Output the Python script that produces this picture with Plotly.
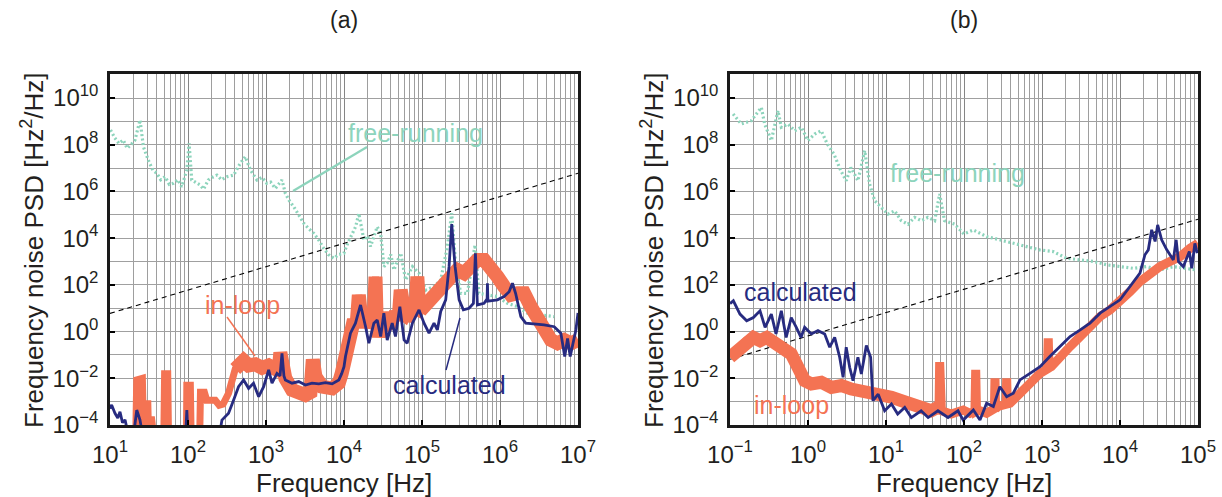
import numpy as np
import plotly.graph_objects as go

W, H = 1222, 497

# ---------------- data (log10 of frequency [Hz], log10 of PSD [Hz^2/Hz]) ----------------
# Panel (a)
a_free_f_log10 = [1.007,1.06,1.114,1.17,1.22,1.27,1.32,1.385,1.428,1.49,1.55,1.6,1.65,1.707,1.76,1.814,1.87,1.92,1.985,2.014,2.048,2.1,2.155,2.2,2.26,2.31,2.37,2.43,2.5,2.585,2.67,2.735,2.8,2.884,2.95,3.01,3.06,3.12,3.205,3.248,3.3,3.355,3.42,3.484,3.55,3.612,3.68,3.74,3.8,3.87,3.93,3.998,4.05,4.105,4.15,4.19,4.255,4.3,4.34,4.426,4.47,4.512,4.554,4.6,4.64,4.727,4.79,4.877,4.962,5.05,5.154,5.24,5.325,5.381,5.43,5.496,5.582,5.68,5.73,5.839,5.967,6.096,6.224,6.352,6.523,6.695]
a_free_psd_log10 = [8.63,8.3,8.06,8.2,7.85,8.0,8.2,9.06,7.92,7.35,6.9,6.78,6.5,6.63,6.3,6.35,6.5,6.2,6.92,8.06,6.49,6.4,6.28,6.1,6.49,6.6,6.7,6.5,6.63,6.7,7.2,7.49,6.92,6.49,6.6,6.35,6.4,6.13,6.49,5.92,5.6,5.35,5.0,4.64,4.4,4.21,3.9,3.56,3.3,3.14,3.3,3.35,3.8,4.21,4.5,5.06,3.92,4.1,3.64,4.49,4.21,2.78,2.93,3.3,2.64,3.36,2.21,2.78,2.5,1.78,1.93,2.21,3.64,5.07,2.93,1.64,1.64,3.71,1.64,1.57,1.5,1.21,1.07,0.79,0.71,0.64]

a_inloop_f_log10 = [1.0,1.33,1.343,1.415,1.43,1.475,1.484,1.495,1.53,1.56,1.69,1.70,1.74,1.75,1.98,1.985,2.03,2.04,2.15,2.16,2.21,2.24,2.35,2.40,2.45,2.52,2.606,2.648,2.713,2.777,2.863,2.95,3.034,3.12,3.17,3.184,3.2,3.248,3.334,3.42,3.505,3.57,3.6,3.634,3.72,3.848,3.934,3.97,4.0,4.04,4.08,4.127,4.16,4.19,4.22,4.255,4.3,4.34,4.38,4.404,4.42,4.447,4.51,4.56,4.6,4.663,4.7,4.727,4.75,4.791,4.877,4.92,4.94,4.96,5.026,5.11,5.197,5.28,5.368,5.453,5.539,5.625,5.71,5.796,5.882,5.967,6.053,6.139,6.224,6.31,6.395,6.48,6.566,6.652,6.737,6.823,6.909,7.0]
a_inloop_psd_log10 = [-4.5,-4.5,-2.07,-2.0,-4.5,-4.5,-2.94,-4.5,-3.64,-4.5,-4.5,-1.81,-1.81,-4.5,-4.5,-2.3,-2.3,-4.5,-4.5,-2.6,-2.6,-2.94,-2.94,-3.15,-3.1,-2.64,-1.6,-1.5,-1.25,-1.45,-1.4,-1.55,-1.45,-1.6,-1.4,-0.9,-1.6,-2.0,-2.5,-2.64,-2.72,-2.6,-1.2,-1.93,-2.36,-2.43,-2.2,-1.8,-1.2,-1.0,-0.3,0.5,0.2,1.57,0.6,0.22,0.6,0.79,0.4,2.35,0.3,-0.21,0.79,0.3,0.36,0.79,0.5,1.78,0.6,0.5,1.07,1.0,2.35,1.2,1.07,1.36,1.64,1.93,2.35,2.64,2.5,2.78,3.07,3.07,2.78,2.35,1.93,1.57,1.64,1.64,1.07,0.5,0.07,-0.36,-0.5,-0.36,-0.5,-0.36]

a_calc_f_log10 = [1.0,1.021,1.064,1.1,1.128,1.16,1.193,1.24,1.30,1.343,1.385,1.42,1.97,1.985,2.0,2.40,2.435,2.52,2.585,2.648,2.713,2.777,2.84,2.906,2.97,3.034,3.077,3.141,3.18,3.205,3.23,3.248,3.334,3.42,3.505,3.59,3.677,3.762,3.848,3.934,3.97,4.0,4.019,4.083,4.147,4.212,4.276,4.319,4.383,4.426,4.47,4.511,4.554,4.618,4.66,4.716,4.77,4.81,4.877,4.962,5.026,5.09,5.154,5.197,5.24,5.304,5.347,5.381,5.424,5.476,5.53,5.603,5.659,5.675,5.685,5.695,5.71,5.796,5.835,5.839,5.845,5.967,6.053,6.117,6.16,6.2,6.267,6.33,6.44,6.566,6.695,6.78,6.83,6.866,6.9,6.95,6.973,7.0]
a_calc_psd_log10 = [-3.3,-3.14,-3.5,-3.7,-3.43,-3.9,-3.78,-4.5,-4.5,-3.36,-3.79,-4.5,-4.5,-3.36,-4.5,-4.5,-3.79,-3.5,-2.93,-2.36,-2.07,-2.43,-2.21,-2.79,-2.36,-1.64,-2.21,-1.79,-1.9,-0.93,-1.9,-2.07,-2.21,-2.14,-2.29,-2.21,-2.24,-2.19,-2.24,-2.07,-1.8,-1.5,-1.07,-0.07,0.36,1.14,0.22,-0.5,0.36,0.5,-0.21,0.79,-0.36,0.36,-0.21,1.07,-0.36,-0.5,0.36,0.93,0.36,-0.07,0.36,0.07,0.86,1.36,2.79,4.6,2.79,1.36,0.93,1.0,1.21,2.5,3.35,2.5,1.14,1.21,1.4,2.07,1.3,1.36,1.5,1.71,2.07,1.64,0.64,0.36,0.33,0.29,0.21,-0.07,-1.07,-0.29,-1.07,-0.36,0.07,0.8]

a_beta_f = [1e1, 1e7]
a_beta_psd = [6.0, 6.0e6]

# Panel (b)
b_free_f_log10 = [-0.96,-0.855,-0.727,-0.598,-0.556,-0.47,-0.385,-0.342,-0.256,-0.17,-0.085,0.0,0.085,0.17,0.248,0.333,0.42,0.49,0.55,0.64,0.727,0.79,0.855,0.94,1.025,1.11,1.196,1.282,1.367,1.453,1.538,1.624,1.688,1.75,1.88,2.0,2.12,2.29,2.46,2.63,2.8,2.97,3.14,3.316,3.49,3.66,3.83,4.0,4.17,4.34,4.51,4.684,4.855,4.98]
b_free_psd_log10 = [9.32,8.89,9.03,9.6,8.89,8.18,9.46,8.75,8.89,8.6,8.75,8.18,8.46,8.6,8.03,7.6,6.89,6.46,7.03,6.46,7.75,6.32,5.6,5.32,5.03,5.17,4.75,4.6,4.89,4.75,4.89,4.75,5.89,4.75,4.6,4.18,4.35,4.07,3.92,3.78,3.64,3.5,3.43,3.14,3.07,3.0,2.86,2.78,2.71,2.78,2.64,2.78,2.71,2.64]

b_inloop_f_log10 = [-1.0,-0.957,-0.872,-0.786,-0.7,-0.615,-0.53,-0.47,-0.385,-0.3,-0.214,-0.128,-0.043,0.043,0.17,0.3,0.43,0.556,0.684,0.81,0.94,1.07,1.196,1.325,1.453,1.58,1.666,1.68,1.688,1.70,1.71,1.837,1.965,1.99,2.077,2.14,2.15,2.16,2.18,2.29,2.39,2.397,2.405,2.44,2.54,2.547,2.555,2.59,2.718,2.846,2.975,3.07,3.08,3.09,3.12,3.23,3.36,3.49,3.615,3.744,3.872,4.0,4.128,4.256,4.385,4.51,4.64,4.77,4.9,5.0]
b_inloop_psd_log10 = [-1.1,-0.96,-0.67,-0.39,-0.25,-0.39,-0.25,-0.39,-0.53,-0.67,-0.96,-1.53,-2.1,-2.24,-2.17,-2.39,-2.31,-2.46,-2.53,-2.67,-2.74,-2.81,-2.96,-3.1,-3.24,-3.39,-3.24,-3.3,-1.31,-3.3,-3.39,-3.53,-3.39,-3.36,-3.5,-3.4,-1.64,-3.4,-3.36,-3.5,-3.3,-2.0,-3.3,-3.21,-3.1,-2.0,-3.1,-3.07,-2.64,-2.21,-1.79,-1.6,-0.29,-1.55,-1.5,-1.07,-0.64,-0.21,0.21,0.64,0.93,1.29,1.71,2.14,2.5,2.78,3.0,3.21,3.57,3.78]

b_calc_f_log10 = [-1.0,-0.957,-0.872,-0.786,-0.7,-0.615,-0.55,-0.47,-0.41,-0.342,-0.28,-0.215,-0.15,-0.09,-0.043,0.043,0.128,0.214,0.278,0.342,0.406,0.45,0.49,0.534,0.577,0.64,0.684,0.748,0.803,0.833,0.9,0.983,1.07,1.15,1.24,1.325,1.45,1.54,1.666,1.795,1.923,1.99,2.12,2.205,2.29,2.376,2.46,2.547,2.632,2.718,2.846,2.975,3.1,3.23,3.36,3.49,3.615,3.744,3.872,4.0,4.128,4.256,4.32,4.363,4.406,4.45,4.483,4.534,4.6,4.684,4.72,4.75,4.812,4.889,4.92,4.96,4.99]
b_calc_psd_log10 = [1.2,1.32,0.75,0.46,0.6,0.89,0.18,0.75,-0.1,0.89,-0.25,0.6,0.18,-0.25,0.18,-0.1,0.04,-0.1,-0.67,-0.25,-1.1,-1.96,-0.67,-1.53,-2.1,-1.1,-1.82,-0.6,-1.1,-2.96,-2.68,-3.39,-3.1,-3.53,-3.25,-3.68,-3.39,-3.68,-3.39,-3.68,-3.39,-3.79,-3.36,-3.79,-3.07,-3.21,-2.36,-2.79,-2.64,-2.07,-1.79,-1.5,-1.07,-0.64,-0.21,0.07,0.36,0.79,1.07,1.36,1.93,2.5,3.29,3.5,4.36,3.86,4.57,3.93,3.5,3.07,3.93,3.0,2.78,3.43,2.71,3.78,3.36]

b_beta_f = [1e-1, 1e5]
b_beta_psd = [0.065, 6.5e4]

panel_titles = ["(a)", "(b)"]
a_xtick_exp = [1, 2, 3, 4, 5, 6, 7]
b_xtick_exp = [-1, 0, 1, 2, 3, 4, 5]
ytick_exp = [-4, -2, 0, 2, 4, 6, 8, 10]

# ---------------- styling ----------------
FONT = "Liberation Sans, Arial, Helvetica, sans-serif"
C_FREE = "#8dd4bc"
C_IN = "#f47353"
C_CALC = "#272b80"

def p(v):
    return 10 ** np.array(v, dtype=float)

fig = go.Figure()

def add_panel(xa, ya, free_f, free_p, in_f, in_p, calc_f, calc_p, beta_f, beta_p,
              in_width, thick_range, thick_width):
    fig.add_trace(go.Scatter(x=p(free_f), y=p(free_p), mode="lines", xaxis=xa, yaxis=ya,
                             line=dict(color=C_FREE, width=3.2, dash="2px,2.5px"), showlegend=False))
    fig.add_trace(go.Scatter(x=beta_f, y=beta_p, mode="lines", xaxis=xa, yaxis=ya,
                             line=dict(color="black", width=1.1, dash="5px,4px"), showlegend=False))
    fig.add_trace(go.Scatter(x=p(in_f), y=p(in_p), mode="lines", xaxis=xa, yaxis=ya,
                             line=dict(color=C_IN, width=in_width), showlegend=False))
    # noisy part of the in-loop trace appears as a wider band
    lo, hi = thick_range
    sel = [i for i, f in enumerate(in_f) if lo <= f <= hi]
    if sel:
        fig.add_trace(go.Scatter(x=p([in_f[i] for i in sel]), y=p([in_p[i] for i in sel]),
                                 mode="lines", xaxis=xa, yaxis=ya,
                                 line=dict(color=C_IN, width=thick_width), showlegend=False))
    fig.add_trace(go.Scatter(x=p(calc_f), y=p(calc_p), mode="lines", xaxis=xa, yaxis=ya,
                             line=dict(color=C_CALC, width=2.8), showlegend=False))

add_panel("x", "y", a_free_f_log10, a_free_psd_log10, a_inloop_f_log10, a_inloop_psd_log10,
          a_calc_f_log10, a_calc_psd_log10, a_beta_f, a_beta_psd, 7, (2.55, 7.0), 14)
add_panel("x2", "y2", b_free_f_log10, b_free_psd_log10, b_inloop_f_log10, b_inloop_psd_log10,
          b_calc_f_log10, b_calc_psd_log10, b_beta_f, b_beta_psd, 9, (-1.0, 1.67), 13)

def xaxis_cfg(exps, dom):
    minor = [m * 10.0 ** e for e in exps[:-1] for m in range(2, 10)]
    return dict(type="log", domain=dom, range=[exps[0], exps[-1]],
                tickvals=[10.0 ** e for e in exps],
                ticktext=[f"10<sup>{e}</sup>".replace("-", "\u2212") for e in exps],
                ticks="inside", ticklen=5, tickwidth=2, tickcolor="black",
                showline=True, linecolor="#1a1a1a", linewidth=2.5, mirror=True,
                showgrid=True, gridcolor="#858585", gridwidth=1.2,
                minor=dict(tickvals=minor, showgrid=True, gridcolor="#9e9e9e", gridwidth=1, ticks=""),
                tickfont=dict(family=FONT, size=24, color="#231f20"),
                ticklabelstandoff=6, zeroline=False, automargin=False)

def yaxis_cfg(anchor):
    odd = [10.0 ** e for e in range(-3, 11, 2)]
    return dict(type="log", domain=[1 - 425 / H, 1 - 74 / H], range=[-4, 11.03], anchor=anchor,
                tickvals=[10.0 ** e for e in ytick_exp],
                ticktext=[f"10<sup>{e}</sup>".replace("-", "\u2212") for e in ytick_exp],
                ticks="inside", ticklen=5, tickwidth=2, tickcolor="black",
                showline=True, linecolor="#1a1a1a", linewidth=2.5, mirror=True,
                showgrid=True, gridcolor="#a0a0a0", gridwidth=1.3,
                minor=dict(tickvals=odd, showgrid=True, gridcolor="#a0a0a0", gridwidth=1.3, ticks=""),
                tickfont=dict(family=FONT, size=24, color="#231f20"),
                ticklabelstandoff=4, zeroline=False, automargin=False)

fig.update_layout(
    width=W, height=H, margin=dict(l=0, r=0, t=0, b=0),
    paper_bgcolor="white", plot_bgcolor="white",
    xaxis=xaxis_cfg(a_xtick_exp, [110 / W, 578 / W]) | dict(anchor="y"),
    yaxis=yaxis_cfg("x"),
    xaxis2=xaxis_cfg(b_xtick_exp, [730 / W, 1198 / W]) | dict(anchor="y2"),
    yaxis2=yaxis_cfg("x2"),
)

def px(x):
    return x / W

def py(y):
    return 1 - y / H

ann = []
def text(x, y, s, color, size, angle=0):
    ann.append(dict(x=px(x), y=py(y), xref="paper", yref="paper", text=s, showarrow=False,
                    textangle=angle, font=dict(family=FONT, size=size, color=color),
                    xanchor="center", yanchor="middle"))

# panel titles
text(344, 20, panel_titles[0], "#231f20", 23)
text(964, 20, panel_titles[1], "#231f20", 23)
# axis titles
text(344, 483, "Frequency [Hz]", "#231f20", 26)
text(964, 483, "Frequency [Hz]", "#231f20", 26)
text(33, 250, "Frequency noise PSD [Hz<sup>2</sup>/Hz]", "#231f20", 26, -90)
text(653, 250, "Frequency noise PSD [Hz<sup>2</sup>/Hz]", "#231f20", 26, -90)
# curve labels
text(415, 133, "free-running", C_FREE, 25)
text(242, 305, "in-loop", C_IN, 25)
text(449, 385, "calculated", C_CALC, 25)
text(957, 173, "free-running", C_FREE, 25)
text(800, 292, "calculated", C_CALC, 25)
text(791, 405, "in-loop", C_IN, 25)
fig.update_layout(annotations=ann)

shapes = [
    dict(type="line", xref="paper", yref="paper", x0=px(367), y0=py(147), x1=px(293), y1=py(191),
         line=dict(color=C_FREE, width=2.2)),
    dict(type="line", xref="paper", yref="paper", x0=px(227), y0=py(317), x1=px(255), y1=py(356),
         line=dict(color=C_IN, width=1.5)),
    dict(type="line", xref="paper", yref="paper", x0=px(446), y0=py(370), x1=px(460), y1=py(318),
         line=dict(color=C_CALC, width=1.5)),
]
fig.update_layout(shapes=shapes)

fig.write_html("out.html")
